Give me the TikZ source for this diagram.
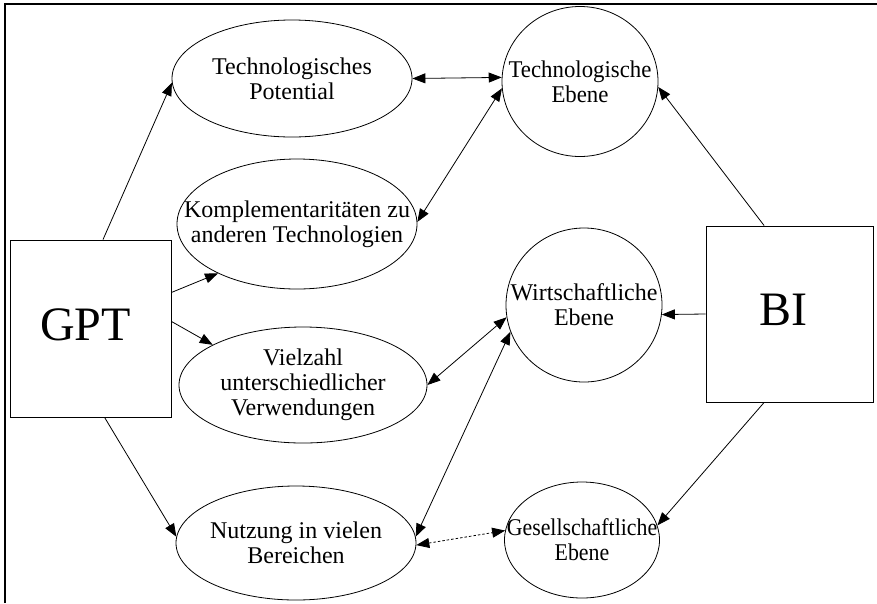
\documentclass[tikz,border=0pt]{standalone}
\usepackage{fontspec}
\setmainfont{Liberation Serif}
\usetikzlibrary{shapes.geometric,arrows.meta}
\begin{document}
\begin{tikzpicture}[x=1pt,y=-1pt,
  box/.style={draw, line width=0.8pt, rectangle, inner sep=0pt},
  big/.style={inner sep=0pt, font=\fontsize{48}{50}\selectfont},
  oval/.style={draw, line width=0.8pt, ellipse, inner sep=0pt},
  txt/.style={align=center, inner sep=0pt, font=\fontsize{24}{25}\selectfont},
  narrow/.style={txt, font=\fontsize{24}{25}\selectfont\addfontfeature{FakeStretch=#1}},
  link/.style={line width=0.8pt, -{Triangle[length=13pt,width=10pt]}},
  twoway/.style={line width=0.8pt,
                 {Triangle[length=13pt,width=10pt]}-{Triangle[length=13pt,width=10pt]}},
  dotlink/.style={twoway, dash pattern=on 2.5pt off 2pt},
  frame/.style={line width=2pt}]
\useasboundingbox (0,0) rectangle (877,603);

% outer frame (top and left edges)
\draw[frame] (5,603) -- (5,4) -- (877,4);

% source boxes
\node[box, minimum width=161pt, minimum height=177pt] (gpt) at (90.5,328.5) {};
\node[big] (gptt) at ([xshift=-5pt,yshift=4pt]gpt.center) {GPT};
\node[box, minimum width=167pt, minimum height=176pt] (bi) at (789.5,314) {};
\node[big] (bit) at ([xshift=-6pt,yshift=4pt]bi.center) {BI};

% properties of a GPT
\node[oval, minimum width=240pt, minimum height=117pt] (e1) at (292,78.5) {};
\node[txt] (e1t) at (e1) {Technologisches\\Potential};
\node[oval, minimum width=240pt, minimum height=130pt] (e2) at (297,224) {};
\node[txt] (e2t) at (e2) {Komplementaritäten zu\\anderen Technologien};
\node[oval, minimum width=248pt, minimum height=116pt] (e3) at (303,385) {};
\node[txt] (e3t) at (e3) {Vielzahl\\unterschiedlicher\\Verwendungen};
\node[oval, minimum width=240pt, minimum height=114pt] (e4) at (296,543) {};
\node[txt] (e4t) at (e4) {Nutzung in vielen\\Bereichen};

% levels
\node[oval, minimum width=156pt, minimum height=150pt] (c1) at (580,81.5) {};
\node[narrow=0.95] (c1t) at (c1) {Technologische\\Ebene};
\node[oval, minimum width=156pt, minimum height=154pt] (c2) at (584,305) {};
\node[txt] (c2t) at (c2) {Wirtschaftliche\\Ebene};
\node[oval, minimum width=155pt, minimum height=116pt] (c3) at (582,540) {};
\node[narrow=0.91] (c3t) at (c3) {Gesellschaftliche\\Ebene};

% GPT to its properties
\draw[link] (gpt.82) -- (e1.182);
\draw[link] (gpt.24) -- (e2.212);
\draw[link] (gpt.5) -- (e3.156);
\draw[link] (gpt.279) -- (e4.177);

% properties to levels
\draw[twoway] (e1.0) -- (c1.177);
\draw[twoway] (e2.1) -- (c1.185);
\draw[twoway] (e3.0) -- (c2.189);
\draw[twoway] (e4.3) -- (c2.200);
\draw[dotlink] (e4.359) -- (c3.173);

% BI to levels
\draw[link] (bi.106) -- (c1.-4);
\draw[link] (bi.west) -- (c2.-7);
\draw[link] (bi.254) -- (c3.11);
\end{tikzpicture}
\end{document}
